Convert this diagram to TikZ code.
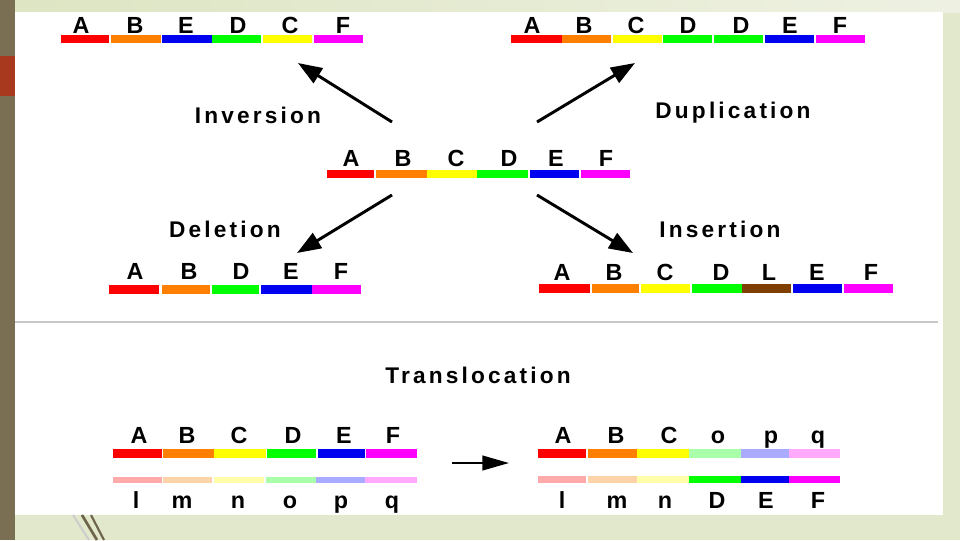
\documentclass[tikz,border=0pt]{standalone}
\usepackage{fontspec}
\setmainfont{Liberation Sans}
\newfontfamily\wordfont[LetterSpace=14]{Liberation Sans}
\usetikzlibrary{arrows.meta}
\definecolor{cR}{HTML}{FF0000}
\definecolor{cO}{HTML}{FF8000}
\definecolor{cY}{HTML}{FFFF00}
\definecolor{cG}{HTML}{00FF00}
\definecolor{cB}{HTML}{0000F0}
\definecolor{cM}{HTML}{FF00FF}
\definecolor{cBr}{HTML}{7F3F00}
\definecolor{pR}{HTML}{FFAAAA}
\definecolor{pO}{HTML}{FFD3AA}
\definecolor{pY}{HTML}{FFFFAA}
\definecolor{pG}{HTML}{AAFFAA}
\definecolor{pB}{HTML}{AAAAFF}
\definecolor{pM}{HTML}{FFAAFF}
\definecolor{olive}{HTML}{7A6E53}
\definecolor{rustred}{HTML}{A8381E}
\definecolor{paleL}{HTML}{DDE5C3}
\definecolor{paleR}{HTML}{EEF1E2}
\definecolor{paleB}{HTML}{E2E8CB}
\definecolor{sepgray}{HTML}{C8C8C8}
\tikzset{
  lt/.style={font=\fontsize{17.5}{20}\selectfont\bfseries, anchor=base, inner sep=0pt},
  word/.style={font=\wordfont\fontsize{17}{20}\selectfont\bfseries, anchor=base, inner sep=0pt},
  mut/.style={line width=2.2pt, -{Triangle[length=18pt,width=13pt]}},
  trans/.style={line width=1.6pt, -{Triangle[length=20pt,width=11pt]}},
}
\begin{document}
\begin{tikzpicture}[x=0.75pt,y=-0.75pt]
\useasboundingbox (0,0) rectangle (960,540);
% background
\fill[paleB] (0,0) rectangle (960,540);
\shade[left color=paleL, right color=paleR] (15,0) rectangle (960,12);
\fill[white] (15,12) rectangle (943,515);
\fill[olive] (0,0) rectangle (15,540);
\fill[rustred] (0,56) rectangle (15,96);
\draw[gray!40, line width=1.5pt] (73,515) -- (89,540);
\draw[olive!90!black, line width=2pt] (82,515) -- (97,540);
\draw[olive!90!black, line width=1.6pt] (91,515) -- (104,540);
% separator
\draw[sepgray, line width=0.9pt] (15,322) -- (938,322);

% top-left: inversion result
\foreach \a/\b/\c in {61/109/cR,111/161/cO,162/212/cB,212/261/cG,263/312/cY,314/363/cM}
  \fill[\c] (\a,35) rectangle (\b,43);
\foreach \l/\x [count=\i] in {A/81,B/135,E/186,D/238,C/290,F/343}
  \node[lt] (inv\i) at (\x,33) {\l};

% top-right: duplication result
\foreach \a/\b/\c in {511/562/cR,562/611/cO,613/662/cY,663/712/cG,714/763/cG,765/814/cB,816/865/cM}
  \fill[\c] (\a,35) rectangle (\b,43);
\foreach \l/\x [count=\i] in {A/532,B/584,C/636,D/688,D/741,E/790,F/840}
  \node[lt] (dup\i) at (\x,33) {\l};

% middle: original
\foreach \a/\b/\c in {327/374/cR,376/427/cO,427/477/cY,477/528/cG,530/579/cB,581/630/cM}
  \fill[\c] (\a,170) rectangle (\b,178);
\foreach \l/\x [count=\i] in {A/351,B/403,C/456,D/509,E/556,F/606}
  \node[lt] (org\i) at (\x,166) {\l};

% deletion result
\foreach \a/\b/\c in {109/159/cR,162/210/cO,212/259/cG,261/312/cB,312/361/cM}
  \fill[\c] (\a,285) rectangle (\b,294);
\foreach \l/\x [count=\i] in {A/135,B/189,D/241,E/291,F/341}
  \node[lt] (del\i) at (\x,279) {\l};

% insertion result
\foreach \a/\b/\c in {539/590/cR,592/639/cO,641/690/cY,692/742/cG,742/791/cBr,793/842/cB,844/893/cM}
  \fill[\c] (\a,284) rectangle (\b,293);
\foreach \l/\x [count=\i] in {A/562,B/614,C/665,D/721,L/769,E/817,F/871}
  \node[lt] (ins\i) at (\x,280) {\l};

% labels
\node[word] (linv) at (258,123) {Inversion};
\node[word] (ldup) at (733,118) {Duplication};
\node[word] (ldel) at (225,237) {Deletion};
\node[word] (lins) at (720,237) {Insertion};
\node[word] (ltra) at (478,383) {Translocation};

% arrows
\coordinate (invS) at (392,122); \coordinate (invE) at (298,63);
\coordinate (dupS) at (537,122); \coordinate (dupE) at (635,63);
\coordinate (delS) at (392,195); \coordinate (delE) at (297,253);
\coordinate (insS) at (537,195); \coordinate (insE) at (633,253);
\draw[mut] (invS) -- (invE);
\draw[mut] (dupS) -- (dupE);
\draw[mut] (delS) -- (delE);
\draw[mut] (insS) -- (insE);

% translocation left
\foreach \a/\b/\c in {113/162/cR,163/214/cO,214/266/cY,267/316/cG,318/365/cB,366/417/cM}
  \fill[\c] (\a,449) rectangle (\b,458);
\foreach \a/\b/\c in {113/162/pR,163/212/pO,214/264/pY,266/316/pG,316/365/pB,365/417/pM}
  \fill[\c] (\a,477) rectangle (\b,483);
\foreach \l/\x [count=\i] in {A/139,B/187,C/239,D/293,E/344,F/393}
  \node[lt] (tla\i) at (\x,443) {\l};
\foreach \l/\x [count=\i] in {l/136,m/182,n/238,o/290,p/341,q/392}
  \node[lt] (tlb\i) at (\x,508) {\l};

% translocation right
\foreach \a/\b/\c in {538/586/cR,588/637/cO,637/689/cY,689/741/pG,741/789/pB,789/840/pM}
  \fill[\c] (\a,449) rectangle (\b,458);
\foreach \a/\b/\c in {538/586/pR,588/637/pO,637/689/pY,689/741/cG,741/789/cB,789/840/cM}
  \fill[\c] (\a,476) rectangle (\b,483);
\foreach \l/\x [count=\i] in {A/563,B/616,C/669,o/718,p/771,q/818}
  \node[lt] (tra\i) at (\x,443) {\l};
\foreach \l/\x [count=\i] in {l/562,m/617,n/665,D/717,E/766,F/818}
  \node[lt] (trb\i) at (\x,508) {\l};

\coordinate (trS) at (452,463); \coordinate (trE) at (509,463);
\draw[trans] (trS) -- (trE);
\end{tikzpicture}
\end{document}
